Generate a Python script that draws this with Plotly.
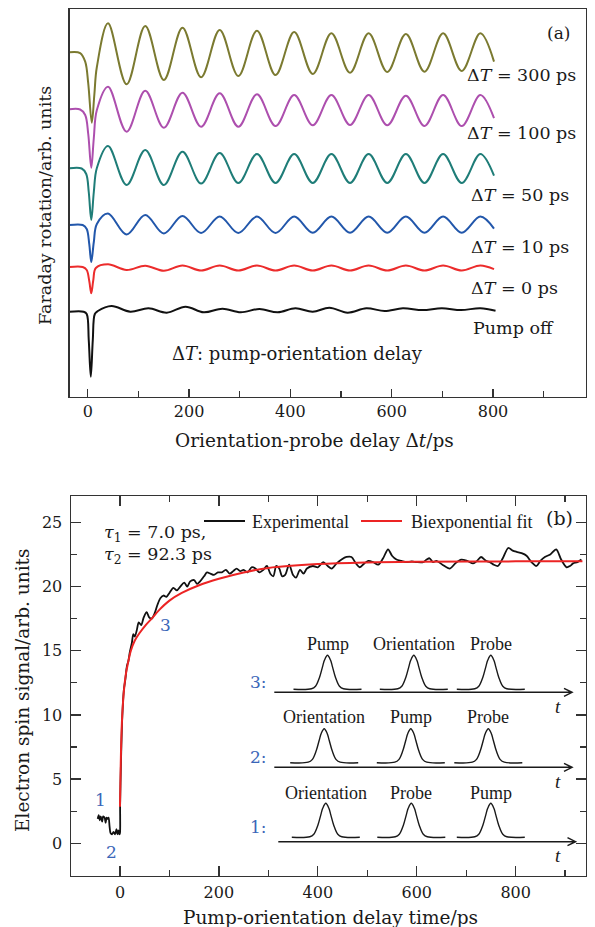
import plotly.graph_objects as go

W, H = 595, 927

# ---------------- Panel (a): Faraday rotation traces (arb. units) ----------------
t_peaks = [40, 113.5, 187, 260.5, 334, 407.5, 481, 554.5, 628, 701.5, 775]
t_troughs = [76.75, 150.25, 223.75, 297.25, 370.75, 444.25, 517.75, 591.25, 664.75, 738.25]
t_end = 802

olive_pre_t = [-36, -15, -5, 1, 8, 13, 18]
olive_pre_y = [347.7, 346.9, 338.3, 316.7, 277.3, 305, 333]
olive_peaks = [376.7, 374, 372.3, 370, 369.3, 368, 366.7, 366.7, 366, 366.7, 366.7]
olive_troughs = [315.7, 320, 322.7, 324, 325, 326, 327.3, 328, 328.3, 329]
olive_end = 338.4

magenta_pre_t = [-36, -15, -5, 1, 7, 12, 18]
magenta_pre_y = [290.7, 290.5, 285, 266, 232.3, 262, 290]
magenta_peaks = [313.3, 309.3, 307.3, 306.7, 305.7, 305, 305, 305, 304.3, 305, 305]
magenta_troughs = [268.3, 272.3, 273.3, 273.3, 274, 274.7, 275, 274.7, 274, 274]
magenta_end = 281.8

teal_pre_t = [-36, -12, -3, 2, 7, 12, 18]
teal_pre_y = [231.7, 231.5, 226, 208, 180, 208, 232]
teal_peaks = [254, 250, 248.3, 247, 246, 246, 246, 246, 246, 246, 246]
teal_troughs = [215, 215, 216.5, 217, 217, 217, 217, 217, 217, 217]
teal_end = 224.3

blue_pre_t = [-36, -10, -2, 3, 7, 12, 18]
blue_pre_y = [175, 175, 171, 156, 138, 158, 176]
blue_peaks = [186.5, 185, 184, 183.5, 183.5, 183.5, 183.5, 183.5, 183.5, 183.5, 183.5]
blue_troughs = [165.5, 166.5, 167, 167, 167, 167.3, 167.3, 167.3, 167.3, 167.3]
blue_end = 171.4

red_pre_t = [-36, -10, -2, 3, 7, 11, 16]
red_pre_y = [133, 133, 130, 119, 106.7, 120, 132]
red_peaks = [135.7, 134.3, 134.5, 134.5, 134.5, 134.5, 134.5, 134.5, 134.5, 134.5, 134.5]
red_troughs = [130, 129.3, 129.5, 129.5, 129.5, 129.5, 129.5, 129.5, 129.5, 129.5]
red_end = 130.8

black_a_t = [-36, -8, -2, 2, 6, 10, 14, 20, 47, 84, 120, 156, 193, 229, 266, 302, 339,
             375, 410, 444, 477, 513, 550, 586, 622, 661, 699, 737, 775, 805]
black_a_y = [88.3, 88.3, 86, 60, 23.3, 60, 86, 89, 94, 88.3, 91.7, 87.3, 93.3, 87.7,
             91.3, 87.7, 91, 87.7, 91.7, 88.3, 92.3, 87.3, 91.7, 89, 91.7, 90, 91.7,
             90, 91.7, 89.3]

a_labels = ["Δ<i>T</i> = 300 ps", "Δ<i>T</i> = 100 ps", "Δ<i>T</i> = 50 ps",
            "Δ<i>T</i> = 10 ps", "Δ<i>T</i> = 0 ps", "Pump off"]

# ---------------- Panel (b): electron spin signal ----------------
exp_t = [-45, -43, -41, -39, -36, -34, -31, -29, -27, -25, -23, -21, -19, -16, -13, -10,
         -7, -5, -3, -1, 0, 0.3, 2, 4, 6, 8, 11, 14, 17, 20, 24, 27, 30, 34, 38, 43, 48,
         54, 59, 64, 70, 76, 82, 88, 94, 100, 108, 115, 122, 130, 136, 142, 150, 156,
         162, 170, 176, 183, 190, 198, 206, 214, 222, 229, 236, 243, 250, 258, 266, 274,
         282, 290, 297, 304, 310, 316, 322, 328, 334, 342, 350, 356, 364, 371, 378, 390,
         400, 411, 420, 428, 438, 448, 458, 468, 477, 485, 494, 502, 512, 522, 532, 542,
         550, 559, 569, 579, 590, 600, 613, 620, 626, 633, 640, 652, 667, 678, 690, 702,
         714, 722, 730, 740, 748, 756, 764, 774, 785, 794, 802, 812, 822, 832, 842, 850,
         859, 870, 882, 892, 903, 910, 916, 925, 933]
exp_y = [1.9, 2.2, 1.8, 2.1, 1.7, 2.1, 2.0, 1.6, 2.0, 1.9, 2.0, 1.3, 0.8, 0.7, 0.9, 0.7,
         1.1, 0.7, 1.0, 0.7, 0.8, 3.0, 6.3, 9.2, 10.9, 12.0, 12.8, 13.8, 14.2, 14.9, 15.6,
         16.3, 16.1, 16.6, 17.2, 17.0, 17.6, 18.0, 17.6, 17.5, 17.9, 18.6, 19.1, 19.3,
         19.2, 19.5, 19.9, 19.7, 20.0, 20.3, 20.0, 20.4, 20.5, 20.2, 20.4, 20.8, 21.1,
         21.0, 20.9, 21.1, 21.1, 21.3, 21.0, 21.2, 21.4, 21.2, 21.3, 21.1, 21.5, 21.4,
         21.1, 21.3, 21.6, 21.0, 20.8, 21.6, 21.4, 20.8, 20.9, 21.7, 20.9, 20.7, 21.3,
         21.0, 21.4, 21.6, 21.5, 21.9, 21.6, 21.4, 21.8, 22.1, 22.3, 22.3, 21.8, 21.5,
         21.8, 22.0, 21.9, 21.7, 22.2, 22.9, 22.4, 22.1, 22.0, 21.9, 21.95, 21.9, 21.9,
         22.1, 22.2, 21.9, 22.0, 21.7, 21.4, 21.8, 22.1, 22.0, 21.8, 22.0, 22.3, 22.0,
         21.9, 21.7, 21.6, 22.2, 23.0, 22.8, 22.7, 22.6, 22.4, 21.9, 21.6, 22.0, 22.3,
         22.5, 22.9, 22.1, 21.5, 21.6, 21.8, 21.9, 22.1]

fit_t = [0, 1, 2, 4, 6, 8, 12, 16, 22, 30, 40, 52, 64, 80, 100, 125, 160, 200, 250,
         300, 400, 500, 600, 800, 935]
fit_y = [2.85, 5.0, 7.0, 9.5, 10.9, 11.9, 13.2, 14.0, 15.0, 15.8, 16.4, 17.0, 17.5,
         18.2, 18.9, 19.5, 20.1, 20.6, 21.1, 21.45, 21.75, 21.88, 21.93, 21.96, 21.97]

legend_names = ["Experimental", "Biexponential fit"]

# inset: schematic pulse profile (normalised)
pulse_dx = [-34, -16, -12, -8, -5, -3, 0, 3, 5, 8, 12, 16, 34]
pulse_h = [0, 0.015, 0.09, 0.35, 0.66, 0.86, 1, 0.86, 0.66, 0.35, 0.09, 0.015, 0]
inset_rows = [["Pump", "Orientation", "Probe"],
              ["Orientation", "Pump", "Probe"],
              ["Orientation", "Probe", "Pump"]]
row_names = ["3:", "2:", "1:"]


def assemble(pre_t, pre_y, peaks, troughs, end_y):
    xs, ys = list(pre_t), list(pre_y)
    for i, tp in enumerate(t_peaks):
        xs.append(tp)
        ys.append(peaks[i])
        if i < len(t_troughs):
            xs.append(t_troughs[i])
            ys.append(troughs[i])
    xs.append(t_end)
    ys.append(end_y)
    return xs, ys


def px(x):
    return x / W


def py(y):
    return 1 - y / H


fig = go.Figure()

traces_a = [
    (olive_pre_t, olive_pre_y, olive_peaks, olive_troughs, olive_end, "#7b7a30"),
    (magenta_pre_t, magenta_pre_y, magenta_peaks, magenta_troughs, magenta_end, "#ad4fae"),
    (teal_pre_t, teal_pre_y, teal_peaks, teal_troughs, teal_end, "#1f7d78"),
    (blue_pre_t, blue_pre_y, blue_peaks, blue_troughs, blue_end, "#2257ab"),
    (red_pre_t, red_pre_y, red_peaks, red_troughs, red_end, "#ec2c2c"),
]
for pt, pyv, pk, tr, en, col in traces_a:
    xs, ys = assemble(pt, pyv, pk, tr, en)
    fig.add_trace(go.Scatter(x=xs, y=ys, mode="lines", xaxis="x", yaxis="y",
                             line=dict(color=col, width=2, shape="spline", smoothing=1),
                             showlegend=False, hoverinfo="skip"))
fig.add_trace(go.Scatter(x=black_a_t, y=black_a_y, mode="lines", xaxis="x", yaxis="y",
                         line=dict(color="#111111", width=2, shape="spline", smoothing=1),
                         showlegend=False, hoverinfo="skip"))

# panel (b)
fig.add_trace(go.Scatter(x=exp_t, y=exp_y, mode="lines", xaxis="x2", yaxis="y2",
                         name=legend_names[0],
                         line=dict(color="#111111", width=1.8, shape="spline", smoothing=0.8),
                         showlegend=False, hoverinfo="skip"))
fig.add_trace(go.Scatter(x=fit_t, y=fit_y, mode="lines", xaxis="x2", yaxis="y2",
                         name=legend_names[1],
                         line=dict(color="#ec2424", width=2, shape="spline", smoothing=1),
                         showlegend=False, hoverinfo="skip"))

# inset pulses (drawn on an overlay axis measured in pixels)
row_base = [689.3, 762.7, 837.3]
row_centers = [[327.5, 413.8, 490.8], [324.2, 410.8, 488.3], [325.8, 411.3, 490.8]]
pulse_height = 34
for base, centers in zip(row_base, row_centers):
    for c in centers:
        fig.add_trace(go.Scatter(x=[c + d for d in pulse_dx],
                                 y=[base - pulse_height * h for h in pulse_h],
                                 mode="lines", xaxis="x3", yaxis="y3",
                                 line=dict(color="#1a1a1a", width=1.4, shape="spline"),
                                 showlegend=False, hoverinfo="skip"))

annotations = []
serif = "DejaVu Serif"
times = "Liberation Serif"
txt = "#1a1a1a"
blue_lbl = "#3a66b8"


def ann(text, x, y, size, family=serif, xanchor="center", color=txt, angle=0,
        xref="paper", yref="paper"):
    if xref == "paper":
        x = px(x)
    if yref == "paper":
        y = py(y)
    annotations.append(dict(text=text, x=x, y=y, xref=xref, yref=yref, xanchor=xanchor,
                            yanchor="middle", showarrow=False, textangle=angle,
                            font=dict(family=family, size=size, color=color)))


# panel (a) labels
a_label_y = [75, 133.3, 195, 247.3, 288.3, 328.3]
a_label_x = [465, 465, 469, 469, 469, 471]
for lab, xx, yy in zip(a_labels, a_label_x, a_label_y):
    ann(lab, xx, yy, 17.5, xanchor="left")
ann("Δ<i>T</i>: pump-orientation delay", 170, 353.3, 18, xanchor="left")
ann("(a)", 558.5, 33.3, 17)
ann("Orientation-probe delay Δ<i>t</i>/ps", 314, 440.7, 18.5)
ann("Faraday rotation/arb. units", 45, 206, 17.5, angle=-90)

# panel (b) labels
ann("Pump-orientation delay time/ps", 330, 917, 18.5)
ann("Electron spin signal/arb. units", 22, 690, 18.5, angle=-90)
ann("(b)", 559, 518, 19)
ann("<i>τ</i><sub>1</sub> = 7.0 ps,", 101.7, 533, 17.5, xanchor="left")
ann("<i>τ</i><sub>2</sub> = 92.3 ps", 101.7, 555.7, 17.5, xanchor="left")
ann(legend_names[0], 250, 521.7, 18, family=times, xanchor="left")
ann(legend_names[1], 409, 521.7, 18, family=times, xanchor="left")
for lab, xx, yy in [("1", -38.4, 3.4), ("2", -16.6, -0.65), ("3", 93, 17.0)]:
    ann(lab, xx, yy, 17, color=blue_lbl, xref="x2", yref="y2")

# inset labels
row_label_y = [643.5, 717, 793.3]
row_num_y = [681.7, 756.7, 826.7]
axis_y = [692.3, 767.3, 841.7]
axis_x0 = [274.3, 274.3, 278.3]
axis_x1 = [572, 572, 575.5]
shapes = []
for r in range(3):
    for k in range(3):
        ann(inset_rows[r][k], row_centers[r][k], row_label_y[r], 18, family=times,
            xref="x3", yref="y3")
    ann(row_names[r], 258, row_num_y[r], 17, color=blue_lbl, xref="x3", yref="y3")
    ann("<i>t</i>", 558.3, axis_y[r] + 14, 19, family=times, xref="x3", yref="y3")
    x0, x1, yy = axis_x0[r], axis_x1[r], axis_y[r]
    shapes.append(dict(type="path", xref="x3", yref="y3",
                       path=f"M {x0},{yy} L {x1},{yy} M {x1 - 8},{yy - 4} L {x1},{yy} "
                            f"L {x1 - 8},{yy + 4}",
                       line=dict(color="#1a1a1a", width=1.5)))

# legend swatches
shapes.append(dict(type="line", xref="paper", yref="paper", x0=px(204), x1=px(245),
                   y0=py(521), y1=py(521), line=dict(color="#111111", width=2)))
shapes.append(dict(type="line", xref="paper", yref="paper", x0=px(361), x1=px(402),
                   y0=py(521), y1=py(521), line=dict(color="#ec2424", width=2)))

tick_font = dict(family=serif, size=16, color=txt)
tick_common = dict(ticks="inside", tickcolor="#333", tickwidth=1.3, tickfont=tick_font,
                   showline=True, linecolor="#333", linewidth=1.5, showgrid=False,
                   zeroline=False)

fig.update_layout(
    width=W, height=H, autosize=False,
    margin=dict(l=0, r=0, t=0, b=0, pad=0),
    paper_bgcolor="white", plot_bgcolor="rgba(0,0,0,0)",
    showlegend=False,
    xaxis=dict(domain=[px(69.5), px(585.7)], range=[-36, 983], anchor="y", mirror=True,
               tick0=0, dtick=200, ticklen=8,
               minor=dict(dtick=100, tick0=0, ticks="inside", ticklen=6, tickwidth=1.3,
                          tickcolor="#333"),
               **tick_common),
    yaxis=dict(domain=[py(396.7), py(9.3)], range=[3.3, 390.7], anchor="x",
               showline=True, linecolor="#333", linewidth=1.5, mirror=True,
               showgrid=False, zeroline=False, ticks="", showticklabels=False),
    xaxis2=dict(domain=[px(71), px(585.7)], range=[-99, 941.6], anchor="y2", mirror="ticks",
                tick0=0, dtick=200, ticklen=10, ticklabelstandoff=2,
                minor=dict(dtick=100, tick0=0, ticks="inside", ticklen=6, tickwidth=1.3,
                           tickcolor="#333"),
                **tick_common),
    yaxis2=dict(domain=[py(875.7), py(496)], range=[-2.52, 27.05], anchor="x2",
                mirror="ticks", tick0=0, dtick=5, ticklen=10, ticklabelstandoff=4,
                minor=dict(dtick=2.5, tick0=0, ticks="inside", ticklen=6, tickwidth=1.3,
                           tickcolor="#333"),
                **tick_common),
    xaxis3=dict(domain=[0, 1], range=[0, W], anchor="y3", visible=False, fixedrange=True),
    yaxis3=dict(domain=[0, 1], range=[H, 0], anchor="x3", visible=False, fixedrange=True),
    annotations=annotations,
    shapes=shapes,
)

fig.write_html("out.html",
               config={"displayModeBar": False, "staticPlot": True},
               post_script="document.body.style.margin='0';"
                           "document.body.style.overflow='hidden';")
